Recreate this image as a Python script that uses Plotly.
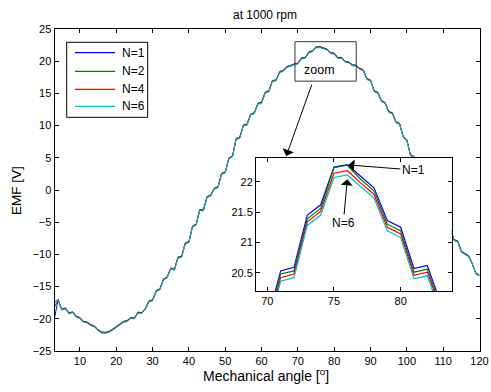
import plotly.graph_objects as go

W, H = 491, 392

angle_deg = list(range(3, 121))

emf_n1 = [
    -19.9, -17.0, -18.5, -18.3, -19.1, -18.9, -19.6, -19.8, -20.4, -20.5,
    -20.9, -21.1, -21.7, -22.05, -22.1, -21.95, -21.6, -21.25, -20.8, -20.4,
    -20.25, -19.8, -19.85, -18.95, -19.05, -18.4, -17.2, -17.05, -15.6, -15.35,
    -13.8, -13.5, -12.1, -12.3, -10.4, -10.3, -8.2, -8.0, -5.6, -5.3,
    -3.0, -3.1, -1.0, -0.8, 0.3, 0.5, 2.6, 2.8, 5.0, 5.3,
    8.0, 8.2, 10.1, 10.2, 11.8, 12.0, 13.5, 13.6, 15.2, 15.4,
    17.0, 17.1, 18.4, 18.6, 19.2, 19.35, 19.6, 19.7, 20.53, 20.59,
    21.45, 21.62, 22.24, 22.28, 22.09, 21.90, 21.36, 21.25, 20.57, 20.62,
    20.0, 19.9, 19.45, 19.4, 18.9, 18.7, 17.3, 17.1, 15.4, 15.2,
    13.9, 13.6, 12.2, 12.0, 10.6, 10.35, 8.3, 7.8, 5.5, 5.2,
    3.1, 2.9, 0.9, 0.6, -1.3, -1.5, -3.4, -3.6, -5.4, -6.0,
    -7.7, -7.9, -9.5, -9.8, -10.2, -11.4, -12.9, -13.2,
]

emf_n2 = [
    -18.2, -17.05, -18.55, -18.35, -19.15, -18.95, -19.65, -19.85, -20.45, -20.55,
    -20.95, -21.15, -21.75, -22.1, -22.15, -22.0, -21.65, -21.3, -20.85, -20.45,
    -20.3, -19.85, -19.9, -19.0, -19.1, -18.45, -17.25, -17.1, -15.65, -15.4,
    -13.85, -13.55, -12.15, -12.35, -10.45, -10.35, -8.25, -8.05, -5.65, -5.35,
    -3.05, -3.15, -1.05, -0.85, 0.25, 0.45, 2.55, 2.75, 4.95, 5.25,
    7.95, 8.15, 10.05, 10.15, 11.75, 11.95, 13.45, 13.55, 15.15, 15.35,
    16.95, 17.05, 18.35, 18.55, 19.15, 19.3, 19.55, 19.65, 20.48, 20.53,
    21.39, 21.56, 22.23, 22.27, 22.04, 21.85, 21.3, 21.19, 20.51, 20.56,
    19.95, 19.85, 19.4, 19.35, 18.85, 18.65, 17.25, 17.05, 15.35, 15.15,
    13.85, 13.55, 12.15, 11.95, 10.55, 10.3, 8.25, 7.75, 5.45, 5.15,
    3.05, 2.85, 0.85, 0.55, -1.35, -1.55, -3.45, -3.65, -5.45, -6.05,
    -7.75, -7.95, -9.55, -9.85, -10.25, -11.45, -12.95, -13.25,
]

emf_n4 = [
    -17.3, -17.11, -18.61, -18.41, -19.21, -19.01, -19.71, -19.91, -20.51, -20.61,
    -21.01, -21.21, -21.81, -22.16, -22.21, -22.06, -21.71, -21.36, -20.91, -20.51,
    -20.36, -19.91, -19.96, -19.06, -19.16, -18.51, -17.31, -17.16, -15.71, -15.46,
    -13.91, -13.61, -12.21, -12.41, -10.51, -10.41, -8.31, -8.11, -5.71, -5.41,
    -3.11, -3.21, -1.11, -0.91, 0.19, 0.39, 2.49, 2.69, 4.89, 5.19,
    7.89, 8.09, 9.99, 10.09, 11.69, 11.89, 13.39, 13.49, 15.09, 15.29,
    16.89, 16.99, 18.29, 18.49, 19.09, 19.24, 19.49, 19.59, 20.42, 20.48,
    21.34, 21.51, 22.14, 22.18, 21.98, 21.79, 21.25, 21.14, 20.46, 20.51,
    19.89, 19.79, 19.34, 19.29, 18.79, 18.59, 17.19, 16.99, 15.29, 15.09,
    13.79, 13.49, 12.09, 11.89, 10.49, 10.24, 8.19, 7.69, 5.39, 5.09,
    2.99, 2.79, 0.79, 0.49, -1.41, -1.61, -3.51, -3.71, -5.51, -6.11,
    -7.81, -8.01, -9.61, -9.91, -10.31, -11.51, -13.01, -13.31,
]

emf_n6 = [
    -17.6, -17.17, -18.67, -18.47, -19.27, -19.07, -19.77, -19.97, -20.57, -20.67,
    -21.07, -21.27, -21.87, -22.22, -22.27, -22.12, -21.77, -21.42, -20.97, -20.57,
    -20.42, -19.97, -20.02, -19.12, -19.22, -18.57, -17.37, -17.22, -15.77, -15.52,
    -13.97, -13.67, -12.27, -12.47, -10.57, -10.47, -8.37, -8.17, -5.77, -5.47,
    -3.17, -3.27, -1.17, -0.97, 0.13, 0.33, 2.43, 2.63, 4.83, 5.13,
    7.83, 8.03, 9.93, 10.03, 11.63, 11.83, 13.33, 13.43, 15.03, 15.23,
    16.83, 16.93, 18.23, 18.43, 19.03, 19.18, 19.43, 19.53, 20.36, 20.42,
    21.28, 21.45, 22.07, 22.11, 21.92, 21.73, 21.19, 21.08, 20.40, 20.45,
    19.83, 19.73, 19.28, 19.23, 18.73, 18.53, 17.13, 16.93, 15.23, 15.03,
    13.73, 13.43, 12.03, 11.83, 10.43, 10.18, 8.13, 7.63, 5.33, 5.03,
    2.93, 2.73, 0.73, 0.43, -1.47, -1.67, -3.57, -3.77, -5.57, -6.17,
    -7.87, -8.07, -9.67, -9.97, -10.37, -11.47, -13.07, -13.37,
]

series_names = ["N=1", "N=2", "N=4", "N=6"]
series_values = [emf_n1, emf_n2, emf_n4, emf_n6]
series_colors = ["#0000FF", "#008000", "#FF0000", "#00BFBF"]

main_xticks = [10, 20, 30, 40, 50, 60, 70, 80, 90, 100, 110, 120]
main_yticks = [-25, -20, -15, -10, -5, 0, 5, 10, 15, 20, 25]
inset_xticks = [70, 75, 80]
inset_yticks = [20.5, 21, 21.5, 22]

FONT = "Arial, Liberation Sans, sans-serif"


def px_x(X):
    """page pixel -> paper fraction"""
    return X / W


def px_y(Y):
    return (H - Y) / H


fig = go.Figure()
for name, vals, col in zip(series_names, series_values, series_colors):
    fig.add_trace(go.Scatter(x=angle_deg, y=vals, mode="lines", name=name,
                             line=dict(color=col, width=1), xaxis="x", yaxis="y",
                             showlegend=False))
for name, vals, col in zip(series_names, series_values, series_colors):
    fig.add_trace(go.Scatter(x=angle_deg, y=vals, mode="lines", name=name,
                             line=dict(color=col, width=1.2), xaxis="x2", yaxis="y2",
                             showlegend=False))

axis_common = dict(showline=True, linecolor="black", linewidth=1, mirror="ticks",
                   ticks="inside", ticklen=4, tickcolor="black", tickwidth=1,
                   showgrid=False, zeroline=False, automargin=False,
                   tickfont=dict(family=FONT, size=11, color="black"))

fig.update_layout(
    width=W, height=H, autosize=False,
    margin=dict(l=0, r=0, t=0, b=0, pad=0, autoexpand=False),
    paper_bgcolor="white", plot_bgcolor="white",
    xaxis=dict(domain=[px_x(54.5), px_x(479.5)], range=[3, 120],
               tickvals=main_xticks, **axis_common),
    yaxis=dict(domain=[px_y(351), px_y(29)], range=[-25, 25],
               tickvals=main_yticks, **axis_common),
    xaxis2=dict(domain=[px_x(256), px_x(451.7)], range=[69.15, 83.83],
                tickvals=inset_xticks, anchor="y2", **axis_common),
    yaxis2=dict(domain=[px_y(291), px_y(158.3)], range=[20.2, 22.385],
                tickvals=inset_yticks, anchor="x2", **axis_common),
    showlegend=False,
)

shapes = [
    # zoom rectangle on main axes
    dict(type="rect", xref="x", yref="y", x0=69.2, x1=86.06, y0=16.9, y1=23.03,
         line=dict(color="#333333", width=1), fillcolor="rgba(0,0,0,0)"),
    # legend box
    dict(type="rect", xref="paper", yref="paper", x0=px_x(66.7), x1=px_x(147.7),
         y0=px_y(117.3), y1=px_y(42.3), line=dict(color="black", width=1),
         fillcolor="white", layer="above"),
]
legend_rows = [52.7, 71.3, 89.3, 106.3]
annotations = []
for name, col, yy in zip(series_names, series_colors, legend_rows):
    shapes.append(dict(type="line", xref="paper", yref="paper", x0=px_x(75), x1=px_x(115),
                       y0=px_y(yy), y1=px_y(yy), line=dict(color=col, width=1.2),
                       layer="above"))
    annotations.append(dict(text=name, xref="paper", yref="paper", x=px_x(119.5), y=px_y(yy),
                            xanchor="left", yanchor="middle", showarrow=False,
                            font=dict(family=FONT, size=12, color="black")))

annotations += [
    dict(text="at 1000 rpm", xref="paper", yref="paper", x=px_x(265), y=px_y(15),
         xanchor="center", yanchor="middle", showarrow=False,
         font=dict(family=FONT, size=12, color="black")),
    dict(text="Mechanical angle [<sup>o</sup>]", xref="paper", yref="paper",
         x=px_x(265.5), y=px_y(386), xanchor="center", yanchor="bottom", showarrow=False,
         font=dict(family=FONT, size=14, color="black")),
    dict(text="EMF [V]", xref="paper", yref="paper", x=px_x(16.5), y=px_y(190.5),
         xanchor="center", yanchor="middle",
         showarrow=False, textangle=-90, font=dict(family=FONT, size=13.5, color="black")),
    dict(text="zoom", xref="x", yref="y", x=75.9, y=18.7, showarrow=False,
         xanchor="center", yanchor="middle",
         font=dict(family=FONT, size=12.5, color="black")),
    # arrow from zoom box to inset
    dict(text="", xref="x", yref="y", x=66.8, y=5.28, ax=26, ay=-72.7,
         showarrow=True, arrowhead=1, arrowsize=2, arrowwidth=1, arrowcolor="black"),
    # N=1 label
    dict(text="N=1", xref="x2", yref="y2", x=76.07, y=22.275, ax=65, ay=5,
         showarrow=True, arrowhead=1, arrowsize=2, arrowwidth=1, arrowcolor="black",
         font=dict(family=FONT, size=12, color="black")),
    # N=6 label
    dict(text="N=6", xref="x2", yref="y2", x=76.0, y=22.04, ax=-4, ay=43.7,
         showarrow=True, arrowhead=1, arrowsize=2, arrowwidth=1, arrowcolor="black",
         font=dict(family=FONT, size=12, color="black")),
]
fig.update_layout(shapes=shapes, annotations=annotations)

# remove the browser's default 8px page margin so the figure fills the window exactly
fig.write_html("out.html",
               config={"displayModeBar": False},
               post_script="document.body.style.margin='0';document.body.style.overflow='hidden';")
